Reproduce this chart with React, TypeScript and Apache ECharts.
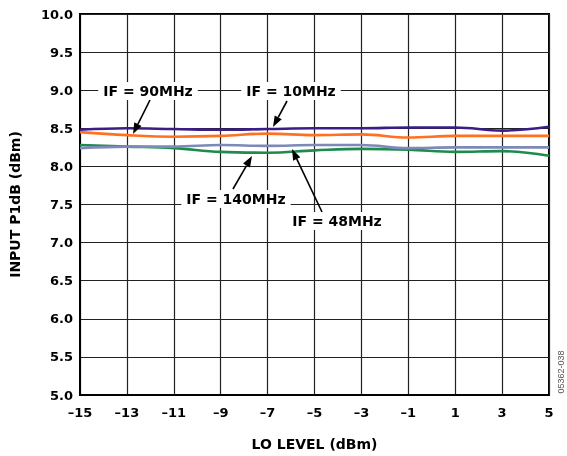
import React, { useEffect, useRef } from "react";
import * as echarts from "echarts";

const loLevel = [-15, -13, -11, -9, -7, -5, -3, -1, 1, 3, 5];
const if10MHz = [8.48, 8.5, 8.49, 8.48, 8.49, 8.5, 8.5, 8.51, 8.51, 8.47, 8.52];
const if90MHz = [8.45, 8.41, 8.39, 8.4, 8.43, 8.41, 8.42, 8.38, 8.4, 8.4, 8.4];
const if140MHz = [8.28, 8.26, 8.24, 8.19, 8.18, 8.21, 8.23, 8.22, 8.19, 8.2, 8.14];
const if48MHz = [8.24, 8.26, 8.26, 8.28, 8.27, 8.28, 8.28, 8.24, 8.25, 8.25, 8.25];

const FONT = "DejaVu Sans";

function arrow(x1: number, y1: number, x2: number, y2: number) {
  const dx = x2 - x1;
  const dy = y2 - y1;
  const len = Math.sqrt(dx * dx + dy * dy);
  const ux = dx / len;
  const uy = dy / len;
  const hl = 11;
  const hw = 4;
  const bx = x2 - ux * hl;
  const by = y2 - uy * hl;
  return [
    {
      type: "line",
      z: 100,
      shape: { x1, y1, x2: bx, y2: by },
      style: { stroke: "#000", lineWidth: 1.6 },
    },
    {
      type: "polygon",
      z: 100,
      shape: {
        points: [
          [x2, y2],
          [bx - uy * hw, by + ux * hw],
          [bx + uy * hw, by - ux * hw],
        ],
      },
      style: { fill: "#000" },
    },
  ];
}

function label(text: string, x: number, y: number) {
  return {
    type: "text",
    z: 100,
    x,
    y,
    style: {
      text,
      font: `bold 14px "${FONT}"`,
      fill: "#000",
      align: "center",
      verticalAlign: "middle",
      backgroundColor: "#fff",
      padding: [2, 5],
    },
  };
}

export default function App() {
  const ref = useRef<HTMLDivElement>(null);
  useEffect(() => {
    if (!ref.current) return;
    const chart = echarts.init(ref.current, undefined, { renderer: "svg" });
    const mk = (name: string, vals: number[], color: string) => ({
      name,
      type: "line",
      data: loLevel.map((x, i) => [x, vals[i]]),
      smooth: 0.4,
      symbol: "none",
      lineStyle: { color, width: 2.6 },
      z: 5,
    });
    chart.setOption({
      animation: false,
      grid: {
        left: 69,
        right: 18,
        top: 14,
        bottom: 58,
        show: true,
        borderColor: "#000",
        borderWidth: 2,
      },
      xAxis: {
        type: "value",
        min: -15,
        max: 5,
        interval: 2,
        name: "LO LEVEL (dBm)",
        nameLocation: "middle",
        nameGap: 42,
        nameTextStyle: { fontFamily: FONT, fontWeight: "bold", fontSize: 14, color: "#000" },
        axisLine: { show: true, onZero: false, lineStyle: { color: "#000", width: 2 } },
        axisTick: { show: false },
        axisLabel: {
          margin: 11,
          fontFamily: FONT,
          fontWeight: "bold",
          fontSize: 13,
          color: "#000",
          formatter: (v: number) => (v < 0 ? "\u2013" + Math.abs(v) : String(v)),
        },
        splitLine: { show: true, lineStyle: { color: "#222", width: 1.2 } },
      },
      yAxis: {
        type: "value",
        min: 5,
        max: 10,
        interval: 0.5,
        name: "INPUT P1dB (dBm)",
        nameLocation: "middle",
        nameGap: 58,
        nameTextStyle: { fontFamily: FONT, fontWeight: "bold", fontSize: 14, color: "#000" },
        axisLine: { show: true, onZero: false, lineStyle: { color: "#000", width: 2 } },
        axisTick: { show: false },
        axisLabel: {
          margin: 7,
          fontFamily: FONT,
          fontWeight: "bold",
          fontSize: 13,
          color: "#000",
          formatter: (v: number) => v.toFixed(1),
        },
        splitLine: { show: true, lineStyle: { color: "#222", width: 1.2 } },
      },
      series: [
        mk("IF = 140MHz", if140MHz, "#1E8B4C"),
        mk("IF = 48MHz", if48MHz, "#7D89B8"),
        mk("IF = 90MHz", if90MHz, "#FF7020"),
        mk("IF = 10MHz", if10MHz, "#3A1E86"),
      ],
      graphic: [
        label("IF = 90MHz", 148, 91),
        label("IF = 10MHz", 291, 91),
        label("IF = 140MHz", 236, 199),
        label("IF = 48MHz", 337, 221),
        ...arrow(150, 100, 133, 134),
        ...arrow(287, 101, 273, 127),
        ...arrow(233, 189, 252, 156),
        ...arrow(322, 212, 292, 149),
        {
          type: "text",
          x: 561,
          y: 372,
          rotation: Math.PI / 2,
          style: {
            text: "05362-038",
            font: '9px "Liberation Sans"',
            fill: "#555",
            align: "center",
            verticalAlign: "middle",
          },
        },
      ],
    });
    return () => chart.dispose();
  }, []);
  return (
    <div
      ref={ref}
      style={{ position: "fixed", left: 0, top: 0, width: 567, height: 456 }}
    />
  );
}
